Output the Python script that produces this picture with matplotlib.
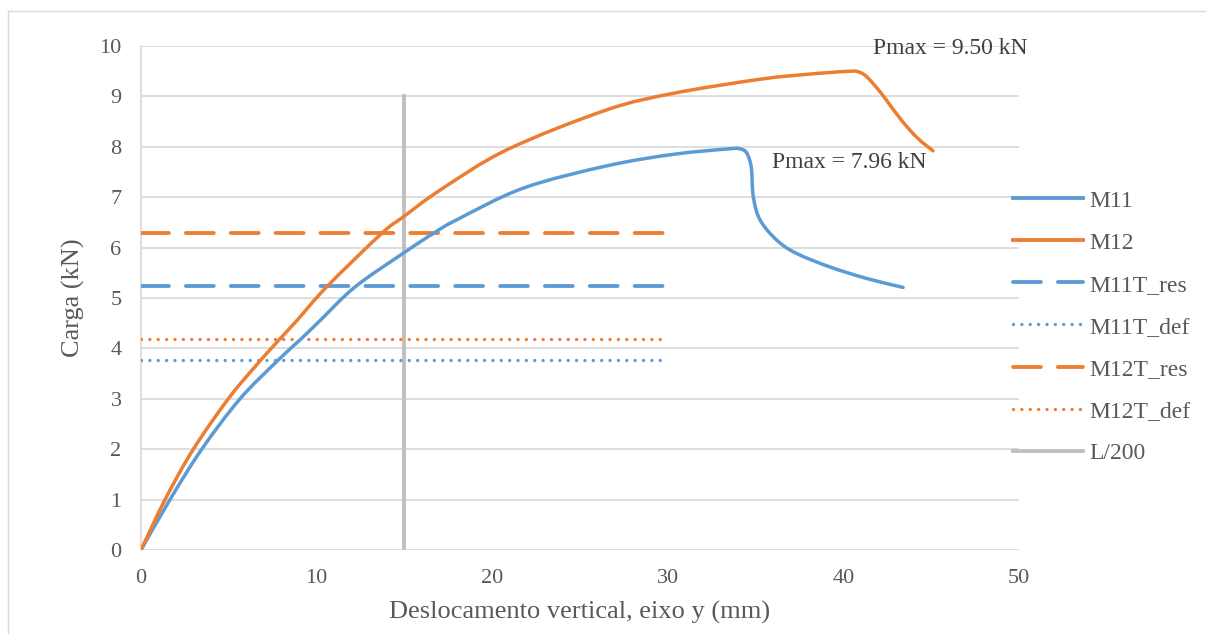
import matplotlib
matplotlib.use("Agg")
import matplotlib.pyplot as plt
from matplotlib.lines import Line2D
from matplotlib.path import Path
from matplotlib.patches import PathPatch

# Load-displacement curves (mm, kN)
m11_x = [0, 1.65, 3.46, 5.64, 7.82, 9.15, 10.19, 12.19, 14.94, 16.64, 17.97, 21.77,
         26.5, 30.3, 33.5, 34.1, 34.45, 34.65, 34.77, 34.87, 35.25, 36.2, 37.3, 39.2,
         41.3, 43.4]
m11_y = [0, 1.0, 2.0, 3.0, 3.77, 4.2, 4.55, 5.22, 5.89, 6.28, 6.55, 7.18,
         7.62, 7.85, 7.96, 7.96, 7.9, 7.75, 7.54, 7.01, 6.55, 6.15, 5.89, 5.62,
         5.39, 5.21]

m12_x = [0, 1.37, 2.98, 4.97, 6.4, 7.73, 8.87, 10.57, 13.7, 14.94, 17.03, 20.83,
         26.5, 30.3, 35.25, 38.0, 40.4, 40.9, 41.3, 41.9, 42.4, 43.3, 44.2, 45.1]
m12_y = [0, 1.0, 2.0, 3.0, 3.6, 4.12, 4.55, 5.22, 6.28, 6.61, 7.14, 7.94,
         8.73, 9.06, 9.34, 9.44, 9.50, 9.48, 9.40, 9.17, 8.95, 8.53, 8.18, 7.92]

# Theoretical reference loads, drawn from 0 to 30 mm
ref_x = [0, 30]
m11t_res = 5.23
m11t_def = 3.77
m12t_res = 6.29
m12t_def = 4.19

# Serviceability limit L/200
lim_x = 15
lim_y = [0, 9]

pmax_m11 = 7.96
pmax_m12 = 9.50

x_ticks = [0, 10, 20, 30, 40, 50]
y_ticks = list(range(0, 11))

BLUE = "#5B9BD5"
ORANGE = "#ED7D31"
GRAY = "#BFBFBF"
TEXT = "#595959"
GRID = "#D9D9D9"

plt.rcParams["font.family"] = ["Liberation Serif", "DejaVu Serif"]


def smooth_path(xs, ys):
    """Smoothed line through the points (cubic Bezier segments, Catmull-Rom tangents)."""
    pts = list(zip(xs, ys))
    n = len(pts)
    verts = [pts[0]]
    codes = [Path.MOVETO]
    for i in range(n - 1):
        p0 = pts[i - 1] if i > 0 else pts[i]
        p1 = pts[i]
        p2 = pts[i + 1]
        p3 = pts[i + 2] if i + 2 < n else pts[i + 1]
        c1 = (p1[0] + (p2[0] - p0[0]) / 6, p1[1] + (p2[1] - p0[1]) / 6)
        c2 = (p2[0] - (p3[0] - p1[0]) / 6, p2[1] - (p3[1] - p1[1]) / 6)
        verts += [c1, c2, p2]
        codes += [Path.CURVE4] * 3
    return Path(verts, codes)


W, H = 1206, 634
fig = plt.figure(figsize=(W / 100, H / 100), dpi=100)
ax = fig.add_axes([141 / W, 1 - 550 / H, (1019 - 141) / W, (550 - 46) / H])

dash = (0, (7.3, 4.45))
dot = (0, (0.01, 2.5))

for xs, ys, col in ((m11_x, m11_y, BLUE), (m12_x, m12_y, ORANGE)):
    ax.add_patch(PathPatch(smooth_path(xs, ys), facecolor="none", edgecolor=col,
                           lw=2.5, joinstyle="round", capstyle="round", zorder=5))

ax.plot([], [], color=BLUE, lw=2.75, label="M11")
ax.plot([], [], color=ORANGE, lw=2.75, label="M12")
ax.plot(ref_x, [m11t_res] * 2, color=BLUE, lw=2.75, linestyle=dash,
        dash_capstyle="round", label="M11T_res", zorder=4)
ax.plot(ref_x, [m11t_def] * 2, color=BLUE, lw=2.4, linestyle=dot,
        dash_capstyle="round", label="M11T_def", zorder=4)
ax.plot(ref_x, [m12t_res] * 2, color=ORANGE, lw=2.75, linestyle=dash,
        dash_capstyle="round", label="M12T_res", zorder=4)
ax.plot(ref_x, [m12t_def] * 2, color=ORANGE, lw=2.4, linestyle=dot,
        dash_capstyle="round", label="M12T_def", zorder=4)
ax.plot([lim_x, lim_x], lim_y, color=GRAY, lw=2.75, label="L/200", zorder=3)

ax.text(41.7, 9.96, f"Pmax = {pmax_m12:.2f} kN", fontsize=17, color="#404040",
        ha="left", va="center")
ax.text(35.93, 7.68, f"Pmax = {pmax_m11:.2f} kN", fontsize=17, color="#404040",
        ha="left", va="center")

ax.set_xlim(0, 50)
ax.set_ylim(0, 10)
ax.set_xticks(x_ticks)
ax.set_yticks(y_ticks)
ax.tick_params(length=0, labelsize=16, colors=TEXT)
ax.tick_params(axis="x", pad=14)
ax.tick_params(axis="y", pad=14)
ax.yaxis.grid(True, color=GRID, lw=1.25)
ax.set_axisbelow(True)
for side in ("top", "right", "bottom"):
    ax.spines[side].set_visible(False)
ax.spines["left"].set_color(GRID)
ax.spines["left"].set_linewidth(1.25)

ax.set_xlabel("Deslocamento vertical, eixo y (mm)", fontsize=19, color=TEXT, labelpad=9)
ax.set_ylabel("Carga (kN)", fontsize=19, color=TEXT, labelpad=10)

leg = fig.legend(loc="upper left", bbox_to_anchor=(1013 / W, 1 - 190 / H),
                 frameon=False, fontsize=17, handlelength=2.97, handletextpad=0.25,
                 labelspacing=0.87, borderpad=0, borderaxespad=0)
for t in leg.get_texts():
    t.set_color(TEXT)

# Chart frame
fig.add_artist(Line2D([8 / W, 1.0], [1 - 11 / H, 1 - 11 / H], transform=fig.transFigure,
                      color=GRID, lw=1))
fig.add_artist(Line2D([8 / W, 8 / W], [0, 1 - 11 / H], transform=fig.transFigure,
                      color=GRID, lw=1))

fig.savefig("out.png", dpi=100)
